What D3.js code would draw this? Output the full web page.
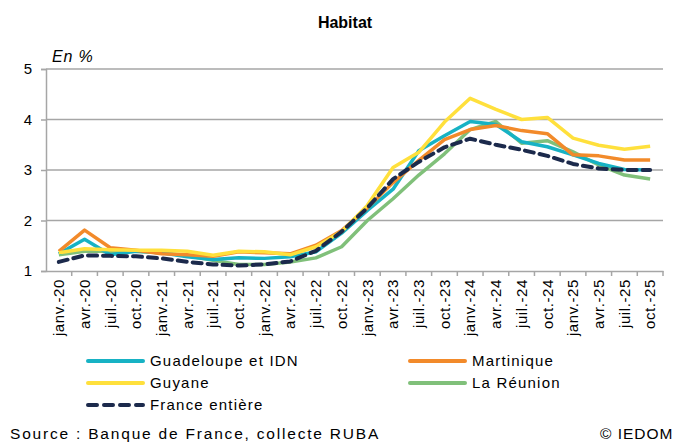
<!DOCTYPE html>
<html>
<head>
<meta charset="utf-8">
<script src="https://cdn.jsdelivr.net/npm/d3@7/dist/d3.min.js"></script>
<style>
  body { margin: 0; background: #fff; }
  svg { font-family: "Liberation Sans", Arial, sans-serif; }
</style>
</head>
<body>
<svg width="677" height="442"></svg>
<script>
var categories = ["janv.-20","avr.-20","juil.-20","oct.-20","janv.-21","avr.-21","juil.-21","oct.-21",
    "janv.-22","avr.-22","juil.-22","oct.-22","janv.-23","avr.-23","juil.-23","oct.-23",
    "janv.-24","avr.-24","juil.-24","oct.-24","janv.-25","avr.-25","juil.-25","oct.-25"];

var guadeloupe = [1.34,1.63,1.32,1.39,1.36,1.28,1.23,1.26,1.25,1.28,1.38,1.75,2.2,2.62,3.38,3.68,3.96,3.9,3.56,3.46,3.3,3.13,3.01,3.0];
var martinique = [1.39,1.81,1.46,1.41,1.34,1.32,1.29,1.38,1.36,1.34,1.51,1.8,2.25,2.75,3.19,3.6,3.8,3.88,3.78,3.72,3.3,3.28,3.2,3.2];
var guyane     = [1.36,1.44,1.42,1.41,1.41,1.39,1.31,1.39,1.38,1.32,1.48,1.78,2.3,3.05,3.35,3.95,4.42,4.2,4.0,4.04,3.63,3.49,3.41,3.47];
var reunion    = [1.32,1.39,1.39,1.39,1.36,1.3,1.21,1.13,1.13,1.18,1.26,1.48,2.0,2.43,2.9,3.32,3.8,3.96,3.53,3.58,3.36,3.1,2.9,2.82];
var france     = [1.18,1.31,1.3,1.29,1.25,1.18,1.13,1.11,1.13,1.19,1.4,1.78,2.25,2.82,3.16,3.45,3.62,3.5,3.4,3.28,3.12,3.03,3.0,3.0];

var yTicks = [1,2,3,4,5];

var series = [
    {name: "Guadeloupe et IDN", values: guadeloupe, color: "#17b2c4", dash: null},
    {name: "Martinique", values: martinique, color: "#f28a2a", dash: null},
    {name: "Guyane", values: guyane, color: "#ffe03c", dash: null},
    {name: "La Réunion", values: reunion, color: "#80c07a", dash: null},
    {name: "France entière", values: france, color: "#1c2a4c", dash: "9,6"}
];
// draw order: France last on top
var drawOrder = [3, 0, 1, 2, 4];

var svg = d3.select("svg"),
    margin = {left: 46, right: 14, top: 69, bottom: 171},
    width = 677 - margin.left - margin.right,
    height = 442 - margin.top - margin.bottom;

var g = svg.append("g")
    .attr("transform", `translate(${margin.left},${margin.top})`);

var xScale = d3.scaleBand().domain(categories).range([0, width]),
    yScale = d3.scaleLinear().domain([1, 5]).range([height, 0]);

// title
svg.append("text")
    .attr("x", 345).attr("y", 28)
    .attr("text-anchor", "middle")
    .style("font-weight", "bold").style("font-size", "16px")
    .text("Habitat");

svg.append("text")
    .attr("x", 52).attr("y", 62)
    .style("font-style", "italic").style("font-size", "16px")
    .style("letter-spacing", "0.8px")
    .text("En %");

// grid lines
g.selectAll(".grid")
    .data(yTicks.filter(function(d) { return d > 1; }))
    .enter().append("line")
    .attr("x1", 0).attr("x2", width)
    .attr("y1", function(d) { return yScale(d); })
    .attr("y2", function(d) { return yScale(d); })
    .attr("stroke", "#a6a6a6").attr("stroke-width", 1.5);

// y axis
var yAxis = g.append("g")
    .call(d3.axisLeft(yScale).tickValues(yTicks).tickSize(5).tickFormat(d3.format("d")));
yAxis.select(".domain").attr("stroke", "#a6a6a6").attr("stroke-width", 1.5);
yAxis.selectAll(".tick line").attr("stroke", "#a6a6a6").attr("stroke-width", 1.5);
yAxis.selectAll(".tick text")
    .attr("x", -14)
    .style("font-size", "15px").style("fill", "#000");

// x axis with ticks at category boundaries
var xAxis = g.append("g")
    .attr("transform", `translate(0,${height})`)
    .call(d3.axisBottom(xScale).tickSize(0).tickSizeOuter(0));
xAxis.select(".domain").attr("stroke", "#a6a6a6").attr("stroke-width", 1.5);
xAxis.selectAll(".tick text")
    .attr("transform", "rotate(-90)")
    .attr("x", -8).attr("y", 0).attr("dy", "0.35em")
    .style("text-anchor", "end")
    .style("font-size", "15px").style("letter-spacing", "0.6px")
    .style("fill", "#000");

g.selectAll(".xtick")
    .data(categories)
    .enter().append("line")
    .attr("x1", function(d) { return xScale(d) + xScale.bandwidth(); })
    .attr("x2", function(d) { return xScale(d) + xScale.bandwidth(); })
    .attr("y1", height).attr("y2", height + 5)
    .attr("stroke", "#a6a6a6").attr("stroke-width", 1.5);

// lines
var line = d3.line()
    .x(function(d, i) { return xScale(categories[i]) + xScale.bandwidth() / 2; })
    .y(function(d) { return yScale(d); });

drawOrder.forEach(function(k) {
    var s = series[k];
    g.append("path")
        .datum(s.values)
        .attr("fill", "none")
        .attr("stroke", s.color)
        .attr("stroke-width", s.dash ? 4 : 3.5)
        .attr("stroke-dasharray", s.dash)
        .attr("stroke-linecap", s.dash ? "round" : "butt")
        .attr("stroke-linejoin", "round")
        .attr("d", line);
});

// legend
var legendPos = [
    {x: 88, y: 361}, {x: 410, y: 361},
    {x: 88, y: 383}, {x: 410, y: 383},
    {x: 88, y: 405}
];
var legend = svg.selectAll(".legend")
    .data(series)
    .enter().append("g")
    .attr("class", "legend")
    .attr("transform", function(d, i) {
        return "translate(" + legendPos[i].x + "," + legendPos[i].y + ")";
    });

legend.append("line")
    .attr("x1", 0).attr("x2", 55)
    .attr("y1", 0).attr("y2", 0)
    .attr("stroke", function(d) { return d.color; })
    .attr("stroke-width", 4)
    .attr("stroke-dasharray", function(d) { return d.dash ? "9,7" : null; })
    .attr("stroke-linecap", "round");

legend.append("text")
    .attr("x", 62).attr("y", 0).attr("dy", "0.35em")
    .style("font-size", "15px").style("letter-spacing", "1.2px")
    .text(function(d) { return d.name; });

// source
svg.append("text")
    .attr("x", 10).attr("y", 439)
    .style("font-size", "15.5px").style("letter-spacing", "1.8px")
    .text("Source : Banque de France, collecte RUBA");

svg.append("text")
    .attr("x", 600).attr("y", 439)
    .style("font-size", "15.5px").style("letter-spacing", "1px")
    .text("© IEDOM");
</script>
</body>
</html>
